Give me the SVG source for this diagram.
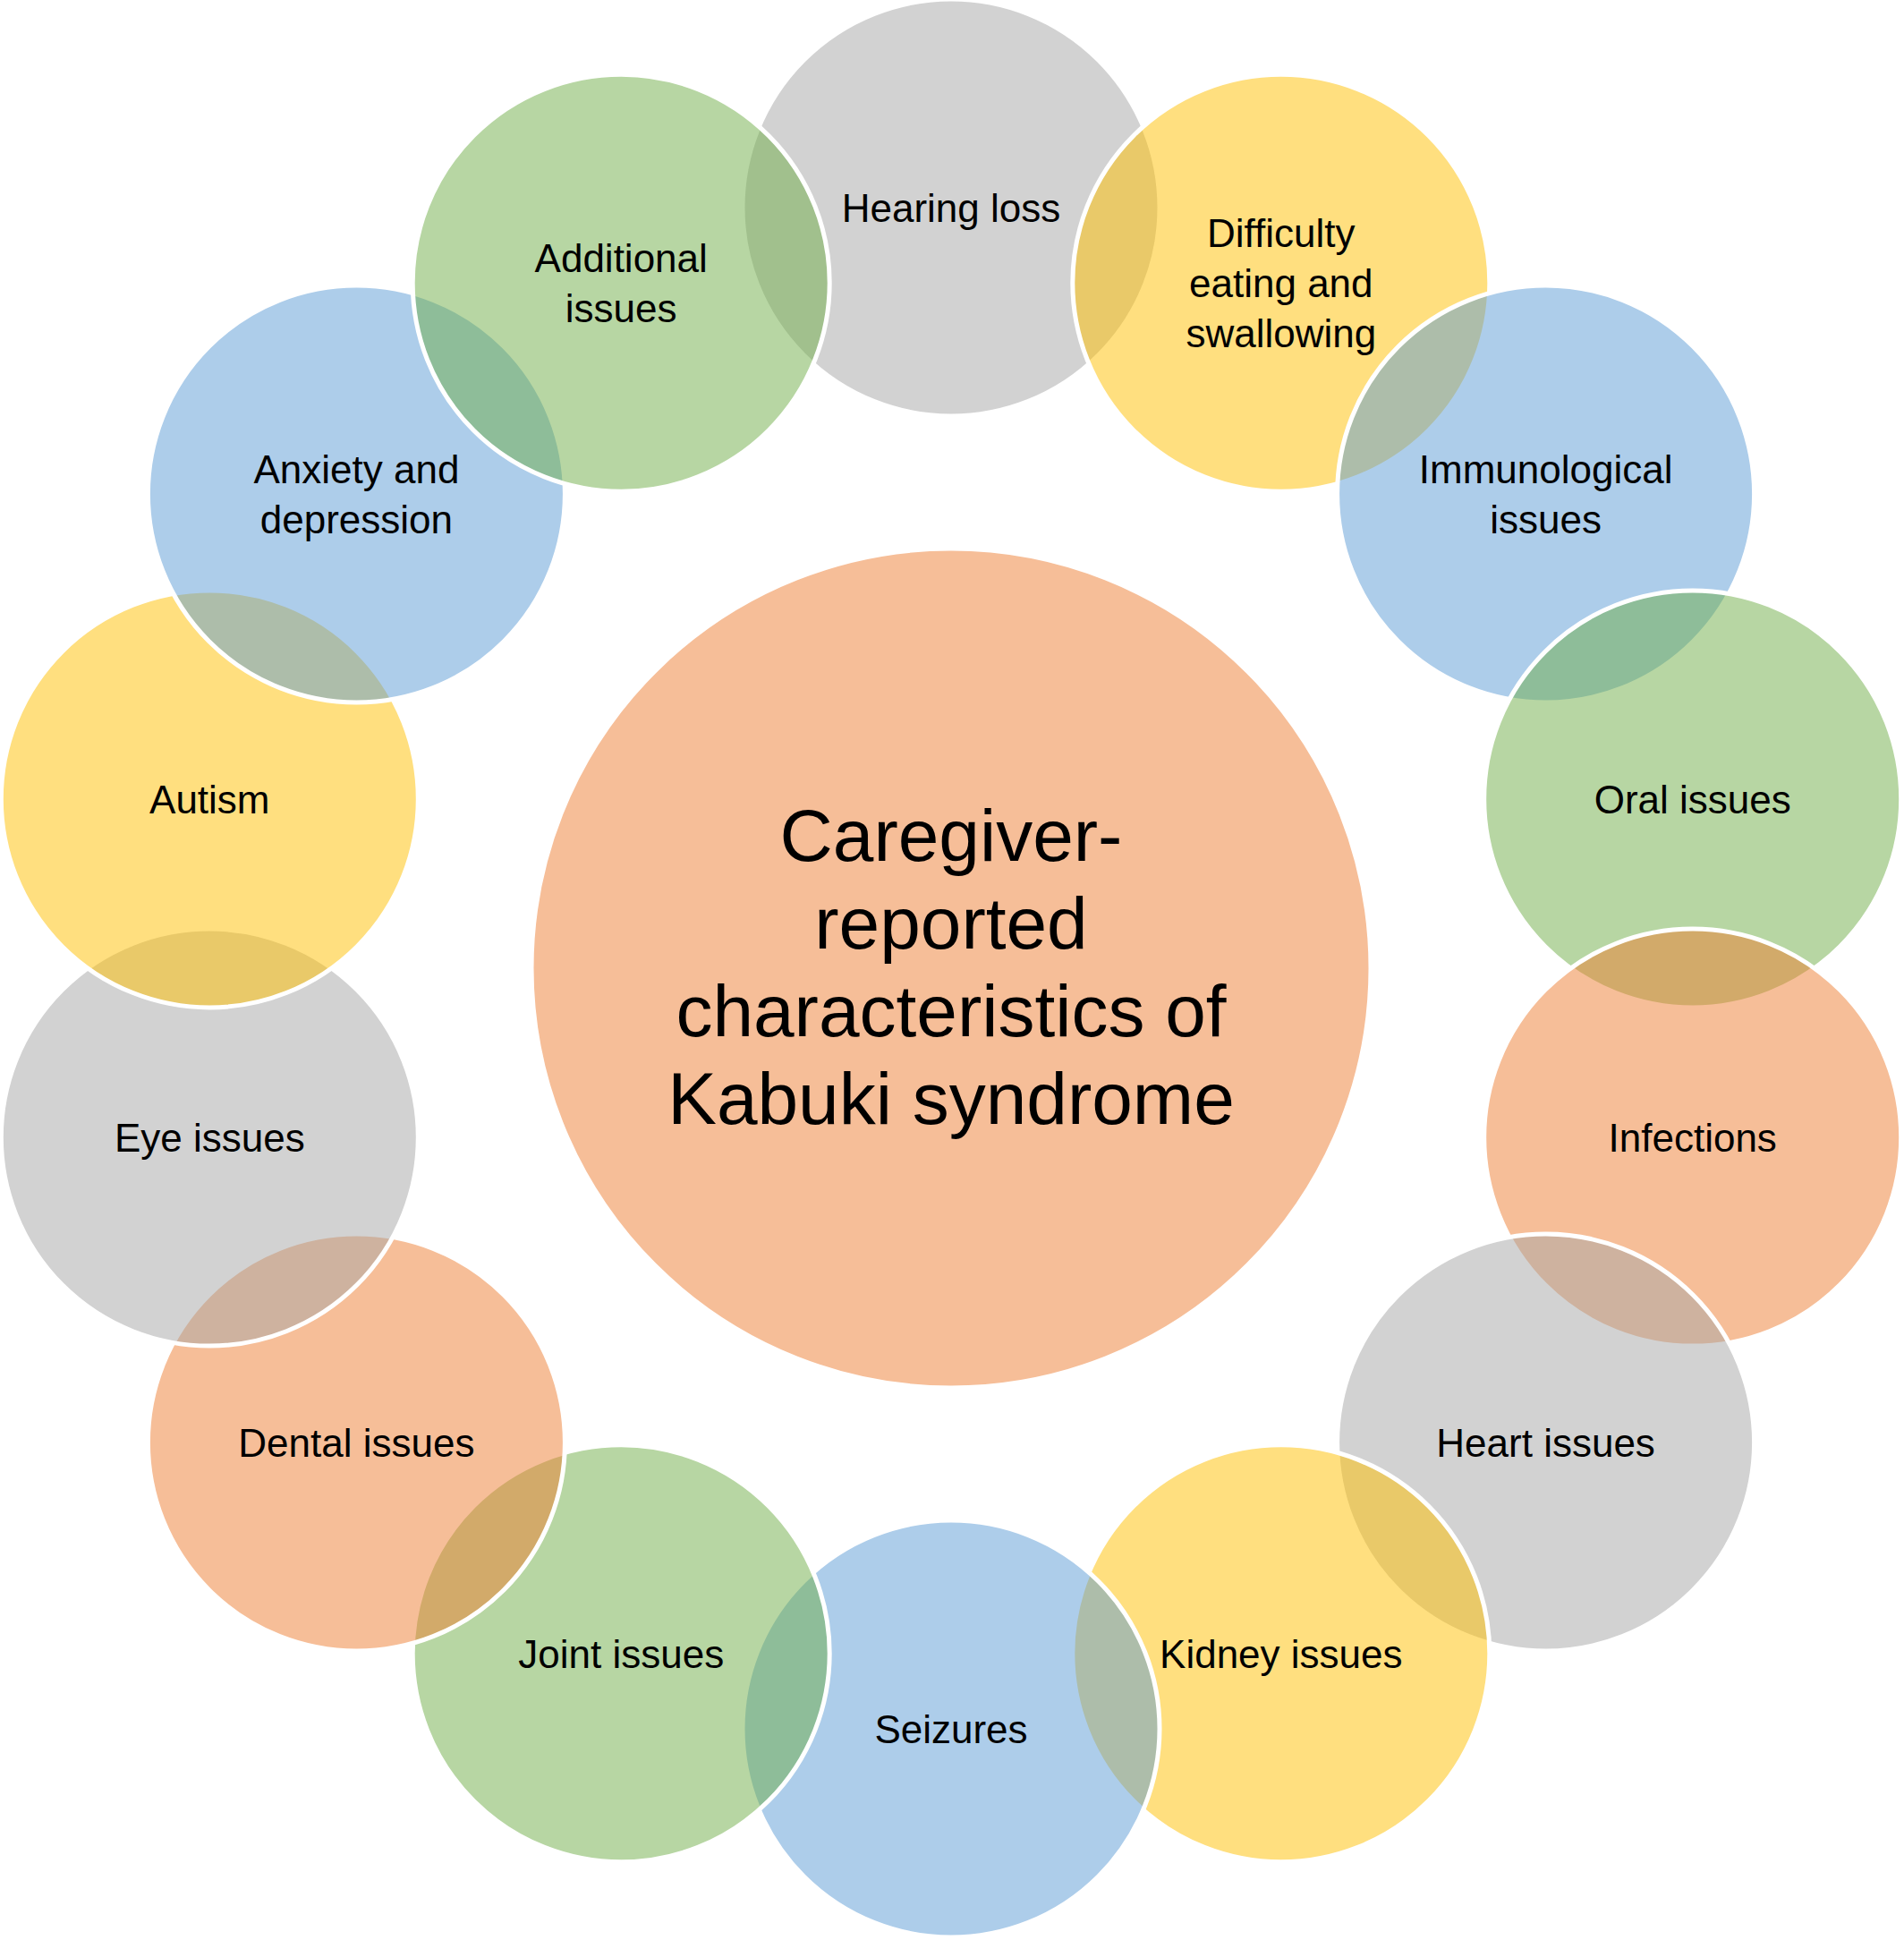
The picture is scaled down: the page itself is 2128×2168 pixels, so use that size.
<svg xmlns="http://www.w3.org/2000/svg" width="2128" height="2168" viewBox="0 0 2128 2168">
<style>
.c{stroke:#FFFFFF;stroke-width:5;fill-opacity:0.5}
.gray{fill:#A5A5A5}
.yellow{fill:#FFC000}
.blue{fill:#5B9BD5}
.green{fill:#70AD47}
.orange{fill:#ED7D31}
.t{font-family:"Liberation Sans",Arial,sans-serif;font-size:44px;fill:#000000;text-anchor:middle}
.tc{font-family:"Liberation Sans",Arial,sans-serif;font-size:82px;fill:#000000;text-anchor:middle}
</style>
<rect x="0" y="0" width="2128" height="2168" fill="#FFFFFF"/>
<g id="center">
<circle class="c orange" cx="1063" cy="1082" r="469"/>
<text class="tc" x="1063" y="962">Caregiver-</text>
<text class="tc" x="1063" y="1060">reported</text>
<text class="tc" x="1063" y="1158">characteristics of</text>
<text class="tc" x="1063" y="1256">Kabuki syndrome</text>
</g>
<g id="connectors"></g>
<g id="hearing-loss">
<circle class="c gray" cx="1063" cy="232" r="233"/>
<text class="t" x="1063" y="248">Hearing loss</text>
</g>
<g id="difficulty-eating">
<circle class="c yellow" cx="1431.8" cy="316.2" r="233"/>
<text class="t" x="1431.8" y="276">Difficulty</text>
<text class="t" x="1431.8" y="332">eating and</text>
<text class="t" x="1431.8" y="388">swallowing</text>
</g>
<g id="immunological">
<circle class="c blue" cx="1727.6" cy="552" r="233"/>
<text class="t" x="1727.6" y="540">Immunological</text>
<text class="t" x="1727.6" y="596">issues</text>
</g>
<g id="oral">
<circle class="c green" cx="1891.7" cy="892.9" r="233"/>
<text class="t" x="1891.7" y="909">Oral issues</text>
</g>
<g id="infections">
<circle class="c orange" cx="1891.7" cy="1271.1" r="233"/>
<text class="t" x="1891.7" y="1287">Infections</text>
</g>
<g id="heart">
<circle class="c gray" cx="1727.6" cy="1612" r="233"/>
<text class="t" x="1727.6" y="1628">Heart issues</text>
</g>
<g id="kidney">
<circle class="c yellow" cx="1431.8" cy="1847.8" r="233"/>
<text class="t" x="1431.8" y="1864">Kidney issues</text>
</g>
<g id="seizures">
<circle class="c blue" cx="1063" cy="1932" r="233"/>
<text class="t" x="1063" y="1948">Seizures</text>
</g>
<g id="joint">
<circle class="c green" cx="694.2" cy="1847.8" r="233"/>
<text class="t" x="694.2" y="1864">Joint issues</text>
</g>
<g id="dental">
<circle class="c orange" cx="398.4" cy="1612" r="233"/>
<text class="t" x="398.4" y="1628">Dental issues</text>
</g>
<g id="eye">
<circle class="c gray" cx="234.3" cy="1271.1" r="233"/>
<text class="t" x="234.3" y="1287">Eye issues</text>
</g>
<g id="autism">
<circle class="c yellow" cx="234.3" cy="892.9" r="233"/>
<text class="t" x="234.3" y="909">Autism</text>
</g>
<g id="anxiety">
<circle class="c blue" cx="398.4" cy="552" r="233"/>
<text class="t" x="398.4" y="540">Anxiety and</text>
<text class="t" x="398.4" y="596">depression</text>
</g>
<g id="additional">
<circle class="c green" cx="694.2" cy="316.2" r="233"/>
<text class="t" x="694.2" y="304">Additional</text>
<text class="t" x="694.2" y="360">issues</text>
</g>
</svg>
